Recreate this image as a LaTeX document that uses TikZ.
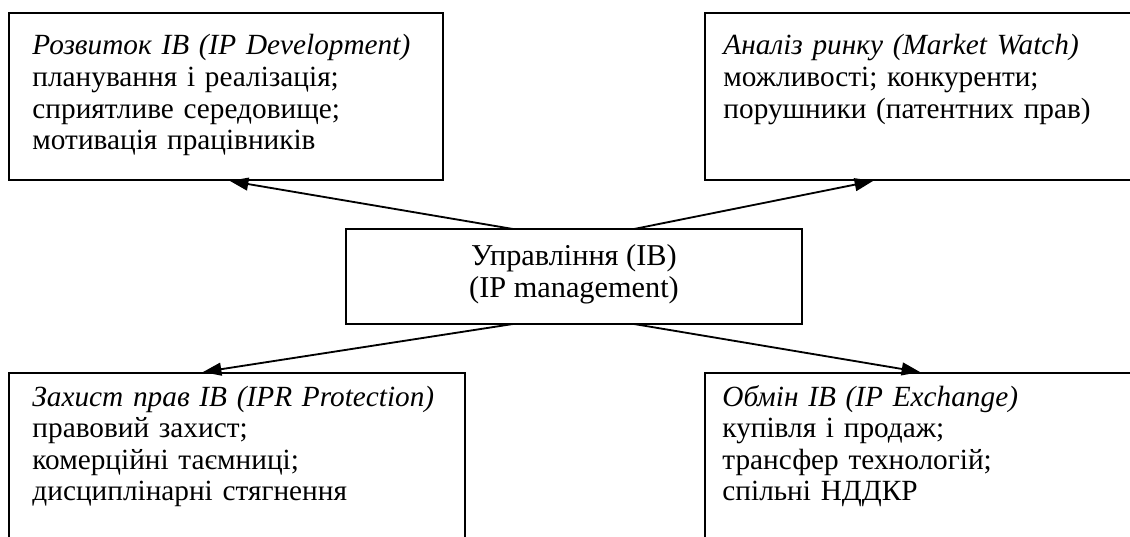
\documentclass[tikz,border=0pt]{standalone}
\usepackage{fontspec}
\setmainfont{Liberation Serif}
\usetikzlibrary{arrows.meta,calc,fit}
\begin{document}
\begin{tikzpicture}[x=0.4355pt,y=-0.4355pt,
  box/.style={draw, line width=0.8pt, inner sep=0pt, outer sep=0pt},
  txt/.style={anchor=base west, inner sep=0pt, align=left, text width=200pt,
    font=\fontsize{12.75pt}{13.75pt}\selectfont},
  ctxt/.style={inner sep=0pt, align=center,
    font=\fontsize{13.2pt}{13.9pt}\selectfont},
  arr/.style={line width=0.8pt, -{Triangle[length=8pt,width=5.6pt]}}]
\useasboundingbox (0,0) rectangle (1130,537);
\clip (0,0) rectangle (1130,537);
% boxes
\node[box, fit={(9,13) (443,180)}] (tl) {};
\node[box, fit={(705,13) (1160,180)}] (tr) {};
\node[box, fit={(9,373) (465,580)}] (bl) {};
\node[box, fit={(705,373) (1160,580)}] (br) {};
\node[box, fit={(346,229) (802,324)}] (c) {};
% texts
\node[txt] (tltext) at ($(tl.north west)+(23,42)$) {\textit{Розвиток IB (IP Development)}\\планування і реалізація;\\сприятливе середовище;\\мотивація працівників};
\node[txt] (trtext) at ($(tr.north west)+(18,42)$) {\textit{Аналіз ринку (Market Watch)}\\можливості; конкуренти;\\порушники (патентних прав)};
\node[txt] (bltext) at ($(bl.north west)+(23,33)$) {\textit{Захист прав IB (IPR Protection)}\\правовий захист;\\комерційні таємниці;\\дисциплінарні стягнення};
\node[txt] (brtext) at ($(br.north west)+(17,33)$) {\textit{Обмін IB (IP Exchange)}\\купівля і продаж;\\трансфер технологій;\\спільні НДДКР};
\node[ctxt] (ctext) at ($(c.center)+(0,-2)$) {Управління (IB)\\(IP management)};
% connectors
\draw[arr] ($(c.north west)+(167,0)$) -- ($(tl.south west)+(221,1)$);
\draw[arr] ($(c.north west)+(288,0)$) -- ($(tr.south west)+(168,1)$);
\draw[arr] ($(c.south west)+(167,0)$) -- ($(bl.north west)+(194,-1)$);
\draw[arr] ($(c.south west)+(288,0)$) -- ($(br.north west)+(215,-1)$);
\end{tikzpicture}
\end{document}
